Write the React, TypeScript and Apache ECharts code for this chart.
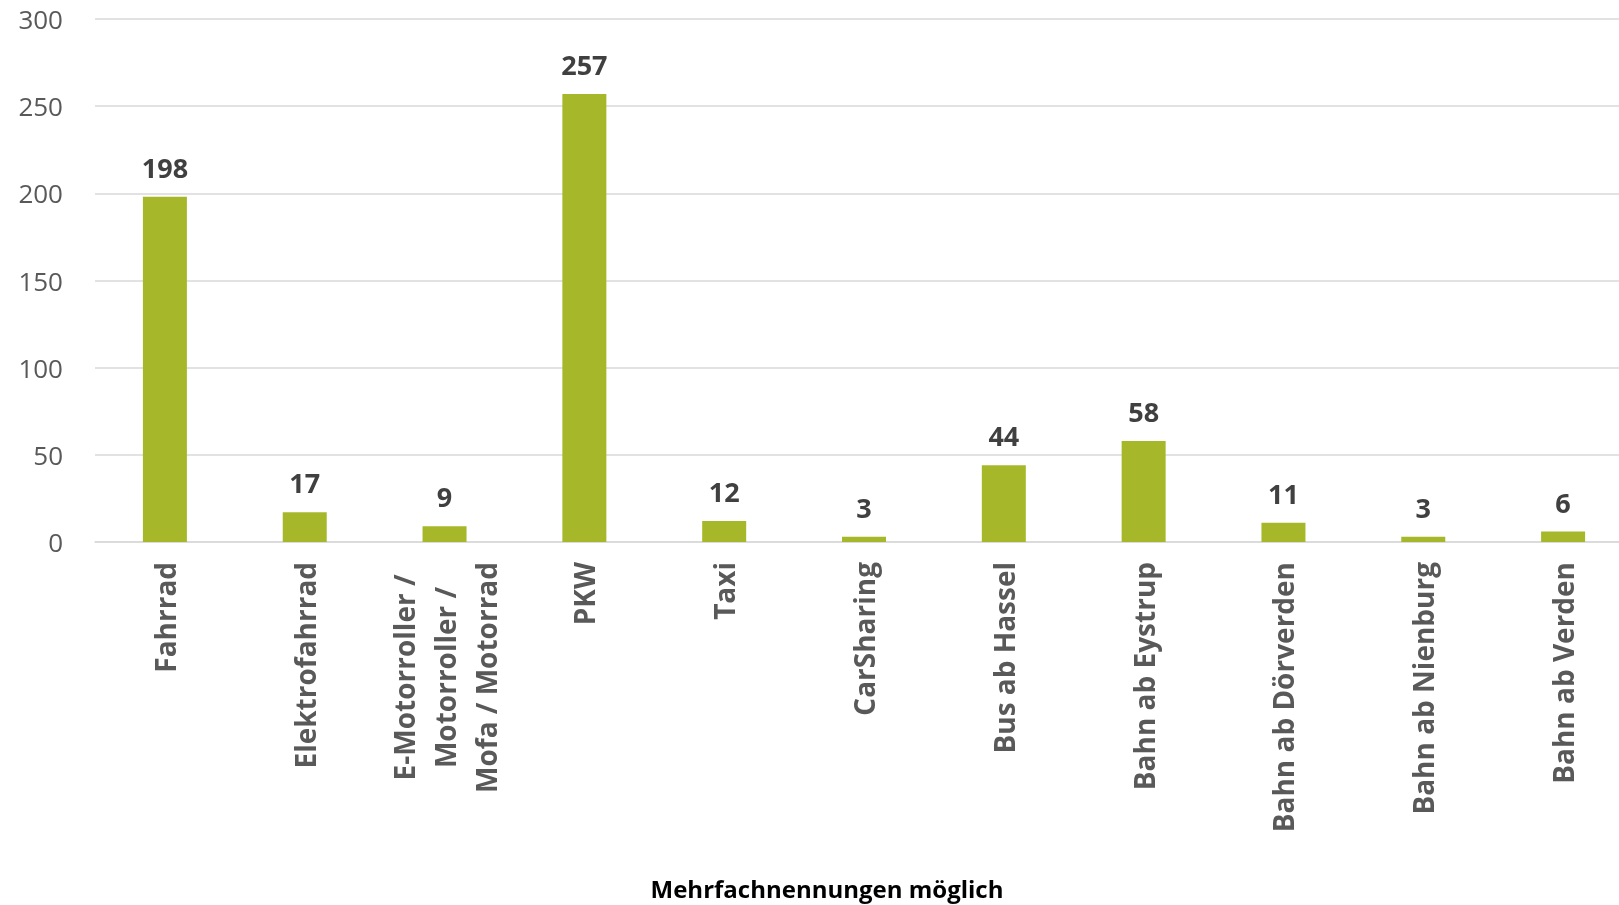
import React, { useEffect, useRef } from "react";
import * as echarts from "echarts";

const categories = [
  "Fahrrad",
  "Elektrofahrrad",
  "E-Motorroller /\nMotorroller /\nMofa / Motorrad",
  "PKW",
  "Taxi",
  "CarSharing",
  "Bus ab Hassel",
  "Bahn ab Eystrup",
  "Bahn ab Dörverden",
  "Bahn ab Nienburg",
  "Bahn ab Verden",
];
const values = [198, 17, 9, 257, 12, 3, 44, 58, 11, 3, 6];
const axisTitle = "Mehrfachnennungen möglich";

const FONT = "'Open Sans', 'Noto Sans', sans-serif";

export default function App() {
  const ref = useRef<HTMLDivElement>(null);
  useEffect(() => {
    document.body.style.margin = "0";
    const chart = echarts.init(ref.current!, null, { renderer: "svg" });
    chart.setOption({
      animation: false,
      grid: { left: 95, right: 0, top: 19, bottom: 363, containLabel: false },
      xAxis: {
        type: "category",
        data: categories,
        axisLine: { lineStyle: { color: "#D9D9D9", width: 1.5 } },
        axisTick: { show: false },
        axisLabel: {
          interval: 0,
          rotate: 90,
          margin: 20,
          color: "#595959",
          fontFamily: FONT,
          fontSize: 28,
          fontWeight: "bold",
          lineHeight: 41,
          formatter: (v: string) =>
            v
              .split("\n")
              .map((l) => `{c|${l}}`)
              .join("\n"),
          rich: {
            c: {
              align: "center",
              color: "#595959",
              fontFamily: FONT,
              fontSize: 28,
              fontWeight: "bold",
              lineHeight: 41,
            },
          },
        },
      },
      yAxis: {
        type: "value",
        min: 0,
        max: 300,
        interval: 50,
        axisLine: { show: false },
        axisTick: { show: false },
        splitLine: { lineStyle: { color: "#D9D9D9", width: 1.5 } },
        axisLabel: {
          margin: 32,
          color: "#595959",
          fontFamily: FONT,
          fontSize: 26,
        },
      },
      series: [
        {
          type: "bar",
          data: values,
          barWidth: 44,
          itemStyle: { color: "#A6B82A" },
          label: {
            show: true,
            position: "top",
            distance: 16,
            color: "#404040",
            fontFamily: FONT,
            fontWeight: "bold",
            fontSize: 27,
          },
        },
      ],
      graphic: [
        {
          type: "text",
          x: 827,
          y: 888,
          style: {
            text: axisTitle,
            align: "center",
            verticalAlign: "middle",
            fill: "#000000",
            font: `bold 24px ${FONT}`,
          },
        },
      ],
    });
    return () => chart.dispose();
  }, []);
  return (
    <div
      style={{
        position: "fixed",
        left: 0,
        top: 0,
        width: 1619,
        height: 905,
        overflow: "hidden",
      }}
    >
      <div ref={ref} style={{ width: 1633, height: 905 }} />
    </div>
  );
}
